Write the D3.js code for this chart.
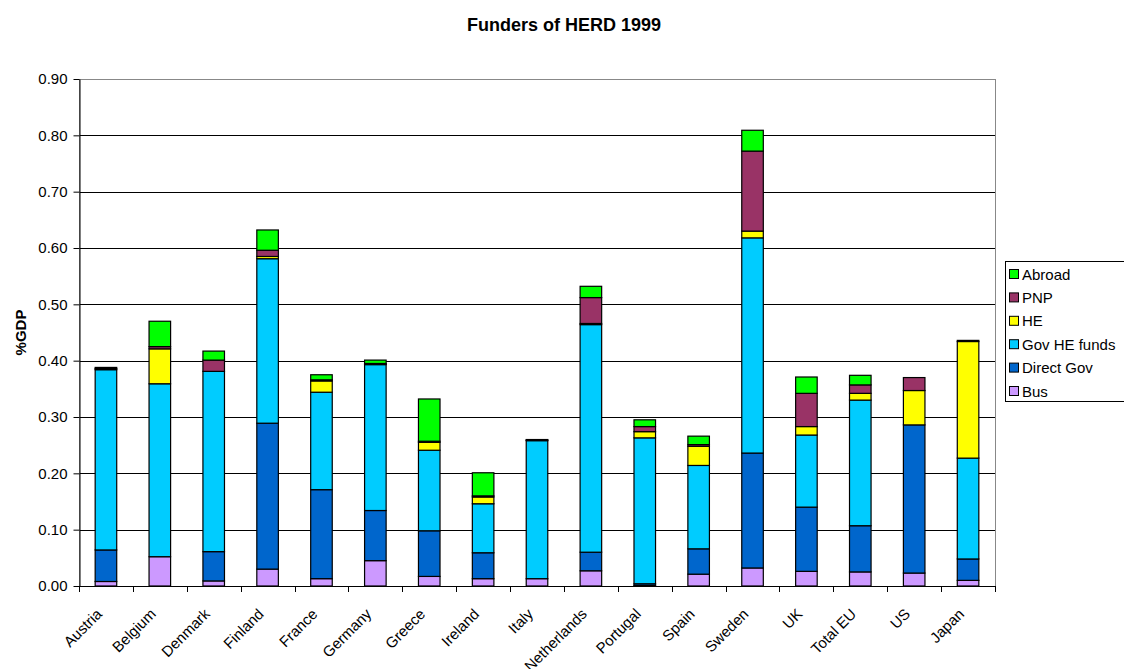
<!DOCTYPE html>
<html>
<head>
<meta charset="utf-8">
<script src="https://cdn.jsdelivr.net/npm/d3@7"></script>
<style>
  html, body { margin: 0; padding: 0; background: #fff; }
  svg { display: block; font-family: Arial, "Liberation Sans", sans-serif; }
</style>
</head>
<body>
<svg id="chart" width="1124" height="669"></svg>
<script>
// Funders of higher-education R&D (HERD) as % of GDP, 1999
const countries = ["Austria", "Belgium", "Denmark", "Finland", "France", "Germany", "Greece", "Ireland", "Italy", "Netherlands", "Portugal", "Spain", "Sweden", "UK", "Total EU", "US", "Japan"];

const bus       = [0.008, 0.052, 0.009, 0.030, 0.013, 0.045, 0.017, 0.013, 0.013, 0.027, 0.001, 0.021, 0.032, 0.026, 0.025, 0.023, 0.010];
const directGov = [0.056, 0.000, 0.052, 0.259, 0.158, 0.089, 0.081, 0.046, 0.000, 0.033, 0.003, 0.045, 0.204, 0.114, 0.082, 0.263, 0.038];
const govHE     = [0.320, 0.307, 0.320, 0.292, 0.173, 0.259, 0.143, 0.087, 0.245, 0.404, 0.259, 0.148, 0.382, 0.128, 0.223, 0.000, 0.179];
const he        = [0.002, 0.062, 0.000, 0.004, 0.020, 0.001, 0.014, 0.012, 0.001, 0.002, 0.011, 0.034, 0.012, 0.015, 0.012, 0.061, 0.207];
const pnp       = [0.002, 0.004, 0.020, 0.011, 0.002, 0.001, 0.002, 0.002, 0.001, 0.046, 0.009, 0.003, 0.142, 0.059, 0.015, 0.023, 0.002];
const abroad    = [0.000, 0.045, 0.016, 0.036, 0.009, 0.006, 0.075, 0.041, 0.000, 0.020, 0.012, 0.015, 0.037, 0.029, 0.017, 0.000, 0.000];

const seriesNames  = ["Bus", "Direct Gov", "Gov HE funds", "HE", "PNP", "Abroad"];
const seriesValues = [bus, directGov, govHE, he, pnp, abroad];
const seriesColors = ["#CC99FF", "#0066CC", "#00CCFF", "#FFFF00", "#993366", "#00FF00"];

const yTicks = [0, 0.1, 0.2, 0.3, 0.4, 0.5, 0.6, 0.7, 0.8, 0.9];

const rows = countries.map((c, i) => {
  const r = { country: c };
  seriesNames.forEach((s, j) => { r[s] = seriesValues[j][i]; });
  return r;
});

const svg = d3.select("#chart");
const plot = { left: 79, right: 995, top: 79, bottom: 586 };

const x = d3.scaleBand().domain(countries).range([plot.left, plot.right]).paddingInner(0).paddingOuter(0);
const y = d3.scaleLinear().domain([0, 0.9]).range([plot.bottom, plot.top]);
const color = d3.scaleOrdinal().domain(seriesNames).range(seriesColors);

// Title
svg.append("text")
  .attr("x", 564).attr("y", 31)
  .attr("text-anchor", "middle")
  .attr("font-size", 18).attr("font-weight", "bold")
  .text("Funders of HERD 1999");

// Horizontal gridlines
svg.append("g")
  .selectAll("line")
  .data(yTicks.filter(t => t > 0 && t < 0.9))
  .join("line")
  .attr("x1", plot.left).attr("x2", plot.right)
  .attr("y1", d => Math.round(y(d)) + 0.5).attr("y2", d => Math.round(y(d)) + 0.5)
  .attr("stroke", "#000").attr("stroke-width", 1);

// Plot frame
svg.append("rect")
  .attr("x", plot.left + 0.5).attr("y", plot.top + 0.5)
  .attr("width", plot.right - plot.left).attr("height", plot.bottom - plot.top)
  .attr("fill", "none").attr("stroke", "#888").attr("stroke-width", 1);

// Stacked bars
const stack = d3.stack().keys(seriesNames);
const layers = stack(rows);
const barW = x.bandwidth() * 0.4;

svg.append("g")
  .selectAll("g")
  .data(layers)
  .join("g")
  .attr("fill", d => color(d.key))
  .selectAll("rect")
  .data(d => d)
  .join("rect")
  .attr("x", d => x(d.data.country) + (x.bandwidth() - barW) / 2)
  .attr("width", barW)
  .attr("y", d => y(d[1]))
  .attr("height", d => Math.max(0, y(d[0]) - y(d[1])))
  .attr("stroke", "#000").attr("stroke-width", 1.2);

// Y axis
const yAxis = d3.axisLeft(y).tickValues(yTicks).tickFormat(d3.format(".2f")).tickSize(6).tickPadding(6).tickSizeOuter(0);
const gy = svg.append("g").attr("transform", `translate(${plot.left + 0.5},0)`).call(yAxis);
gy.select(".domain").attr("stroke", "#000");
gy.selectAll(".tick line").attr("stroke", "#000");
gy.selectAll("text").attr("font-size", 15).attr("fill", "#000").attr("font-family", "Arial, 'Liberation Sans', sans-serif");

// X axis line with ticks between categories
const gx = svg.append("g");
gx.append("line")
  .attr("x1", plot.left).attr("x2", plot.right)
  .attr("y1", plot.bottom + 0.5).attr("y2", plot.bottom + 0.5)
  .attr("stroke", "#000");
gx.selectAll("line.sep")
  .data(countries.concat(["__end"]))
  .join("line")
  .attr("class", "sep")
  .attr("x1", (d, i) => Math.round(i < countries.length ? x(d) : plot.right) + 0.5)
  .attr("x2", (d, i) => Math.round(i < countries.length ? x(d) : plot.right) + 0.5)
  .attr("y1", plot.bottom).attr("y2", plot.bottom + 6)
  .attr("stroke", "#000");

// Category labels, rotated
gx.selectAll("text")
  .data(countries)
  .join("text")
  .attr("transform", d => `translate(${x(d) + x.bandwidth() / 2 - 3},${plot.bottom + 29}) rotate(-45)`)
  .attr("text-anchor", "end")
  .attr("font-size", 15)
  .text(d => d);

// Y axis title
svg.append("text")
  .attr("transform", `translate(26,${(plot.top + plot.bottom) / 2}) rotate(-90)`)
  .attr("text-anchor", "middle")
  .attr("font-size", 15).attr("font-weight", "bold")
  .text("%GDP");

// Legend (top entry is the top of the stack)
const legend = svg.append("g");
legend.append("rect")
  .attr("x", 1005.5).attr("y", 261.5).attr("width", 124).attr("height", 140)
  .attr("fill", "#fff").attr("stroke", "#000");
const legendItems = seriesNames.slice().reverse();
const li = legend.selectAll("g.item")
  .data(legendItems)
  .join("g")
  .attr("class", "item")
  .attr("transform", (d, i) => `translate(1009,${274 + i * 23.4})`);
li.append("rect")
  .attr("x", 0.5).attr("y", -4.5).attr("width", 9).attr("height", 9)
  .attr("fill", d => color(d)).attr("stroke", "#000");
li.append("text")
  .attr("x", 13).attr("y", 5.5)
  .attr("font-size", 15)
  .text(d => d);
</script>
</body>
</html>
